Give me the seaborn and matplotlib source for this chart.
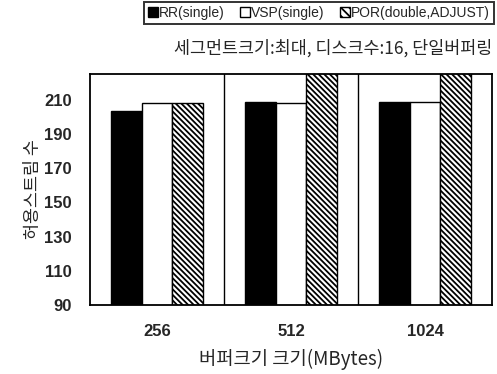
import matplotlib
matplotlib.use("Agg")
import matplotlib.pyplot as plt
import matplotlib.patches as mpatches
import seaborn as sns
import pandas as pd

# buffer sizes (MBytes) and allowed stream counts per scheme
buffer_sizes = ["256", "512", "1024"]
schemes = ["RR(single)", "VSP(single)", "POR(double,ADJUST)"]
rr_values = [203.5, 208.5, 208.5]
vsp_values = [208, 208, 208.5]
por_values = [208, 240, 240]  # 512/1024 run off the top of the axis

df = pd.DataFrame({
    "buffer": buffer_sizes * 3,
    "scheme": [schemes[0]] * 3 + [schemes[1]] * 3 + [schemes[2]] * 3,
    "streams": rr_values + vsp_values + por_values,
})

sns.set_style("white")
plt.rcParams["font.family"] = ["Liberation Sans", "Noto Sans CJK KR", "DejaVu Sans"]
plt.rcParams["hatch.linewidth"] = 1.3

fig = plt.figure(figsize=(4.97, 3.74), dpi=100)
ax = fig.add_axes([90 / 497, 1 - 305 / 374, 402 / 497, 231 / 374])

sns.barplot(data=df, x="buffer", y="streams", hue="scheme", order=buffer_sizes,
            hue_order=schemes, width=0.68, gap=0, ax=ax, legend=False)

faces = ["black", "white", "white"]
hatches = [None, None, "\\\\\\\\\\\\"]
for cont, fc, h in zip(ax.containers, faces, hatches):
    for bar in cont:
        bar.set_facecolor(fc)
        bar.set_edgecolor("black")
        bar.set_linewidth(1.0)
        if h:
            bar.set_hatch(h)

# group separators
for xs in [0.5, 1.5]:
    ax.axvline(xs, color="black", lw=1.0)

ax.set_ylim(90, 225)
ax.set_yticks(range(90, 211, 20))
ax.set_xlim(-0.5, 2.5)
for s in ax.spines.values():
    s.set_color("black")
    s.set_linewidth(1.3)
ax.tick_params(axis="y", direction="out", length=4, width=1, color="black", pad=9)
ax.tick_params(axis="x", length=0, pad=14)
for lab in ax.get_xticklabels() + ax.get_yticklabels():
    lab.set_fontsize(12)
    lab.set_fontweight("bold")

ax.set_xlabel("버퍼크기 크기(MBytes)", fontsize=13.5, family=["Noto Sans CJK KR", "Liberation Sans"], labelpad=7)
ax.set_ylabel("허용스트림 수", fontsize=12.5, family=["Noto Sans CJK KR", "Liberation Sans"], labelpad=2)

fig.text(492 / 497, 1 - 48 / 374, "세그먼트크기:최대, 디스크수:16, 단일버퍼링", ha="right", va="center",
         fontsize=12.5, family=["Noto Sans CJK KR", "Liberation Sans"])

handles = [
    mpatches.Patch(facecolor="black", edgecolor="black", label=schemes[0]),
    mpatches.Patch(facecolor="white", edgecolor="black", label=schemes[1]),
    mpatches.Patch(facecolor="white", edgecolor="black", hatch="\\\\\\\\", label=schemes[2]),
]
leg = fig.legend(handles=handles, loc="upper right", bbox_to_anchor=(494 / 497, 1 - 2 / 374),
                 borderaxespad=0, ncol=3, frameon=True, fancybox=False,
                 handlelength=0.7, handleheight=0.7, handletextpad=0.1, columnspacing=1.1,
                 borderpad=0.3, prop={"size": 10})
leg.get_frame().set_edgecolor("black")
leg.get_frame().set_linewidth(1.4)

fig.savefig("out.png", dpi=100)
